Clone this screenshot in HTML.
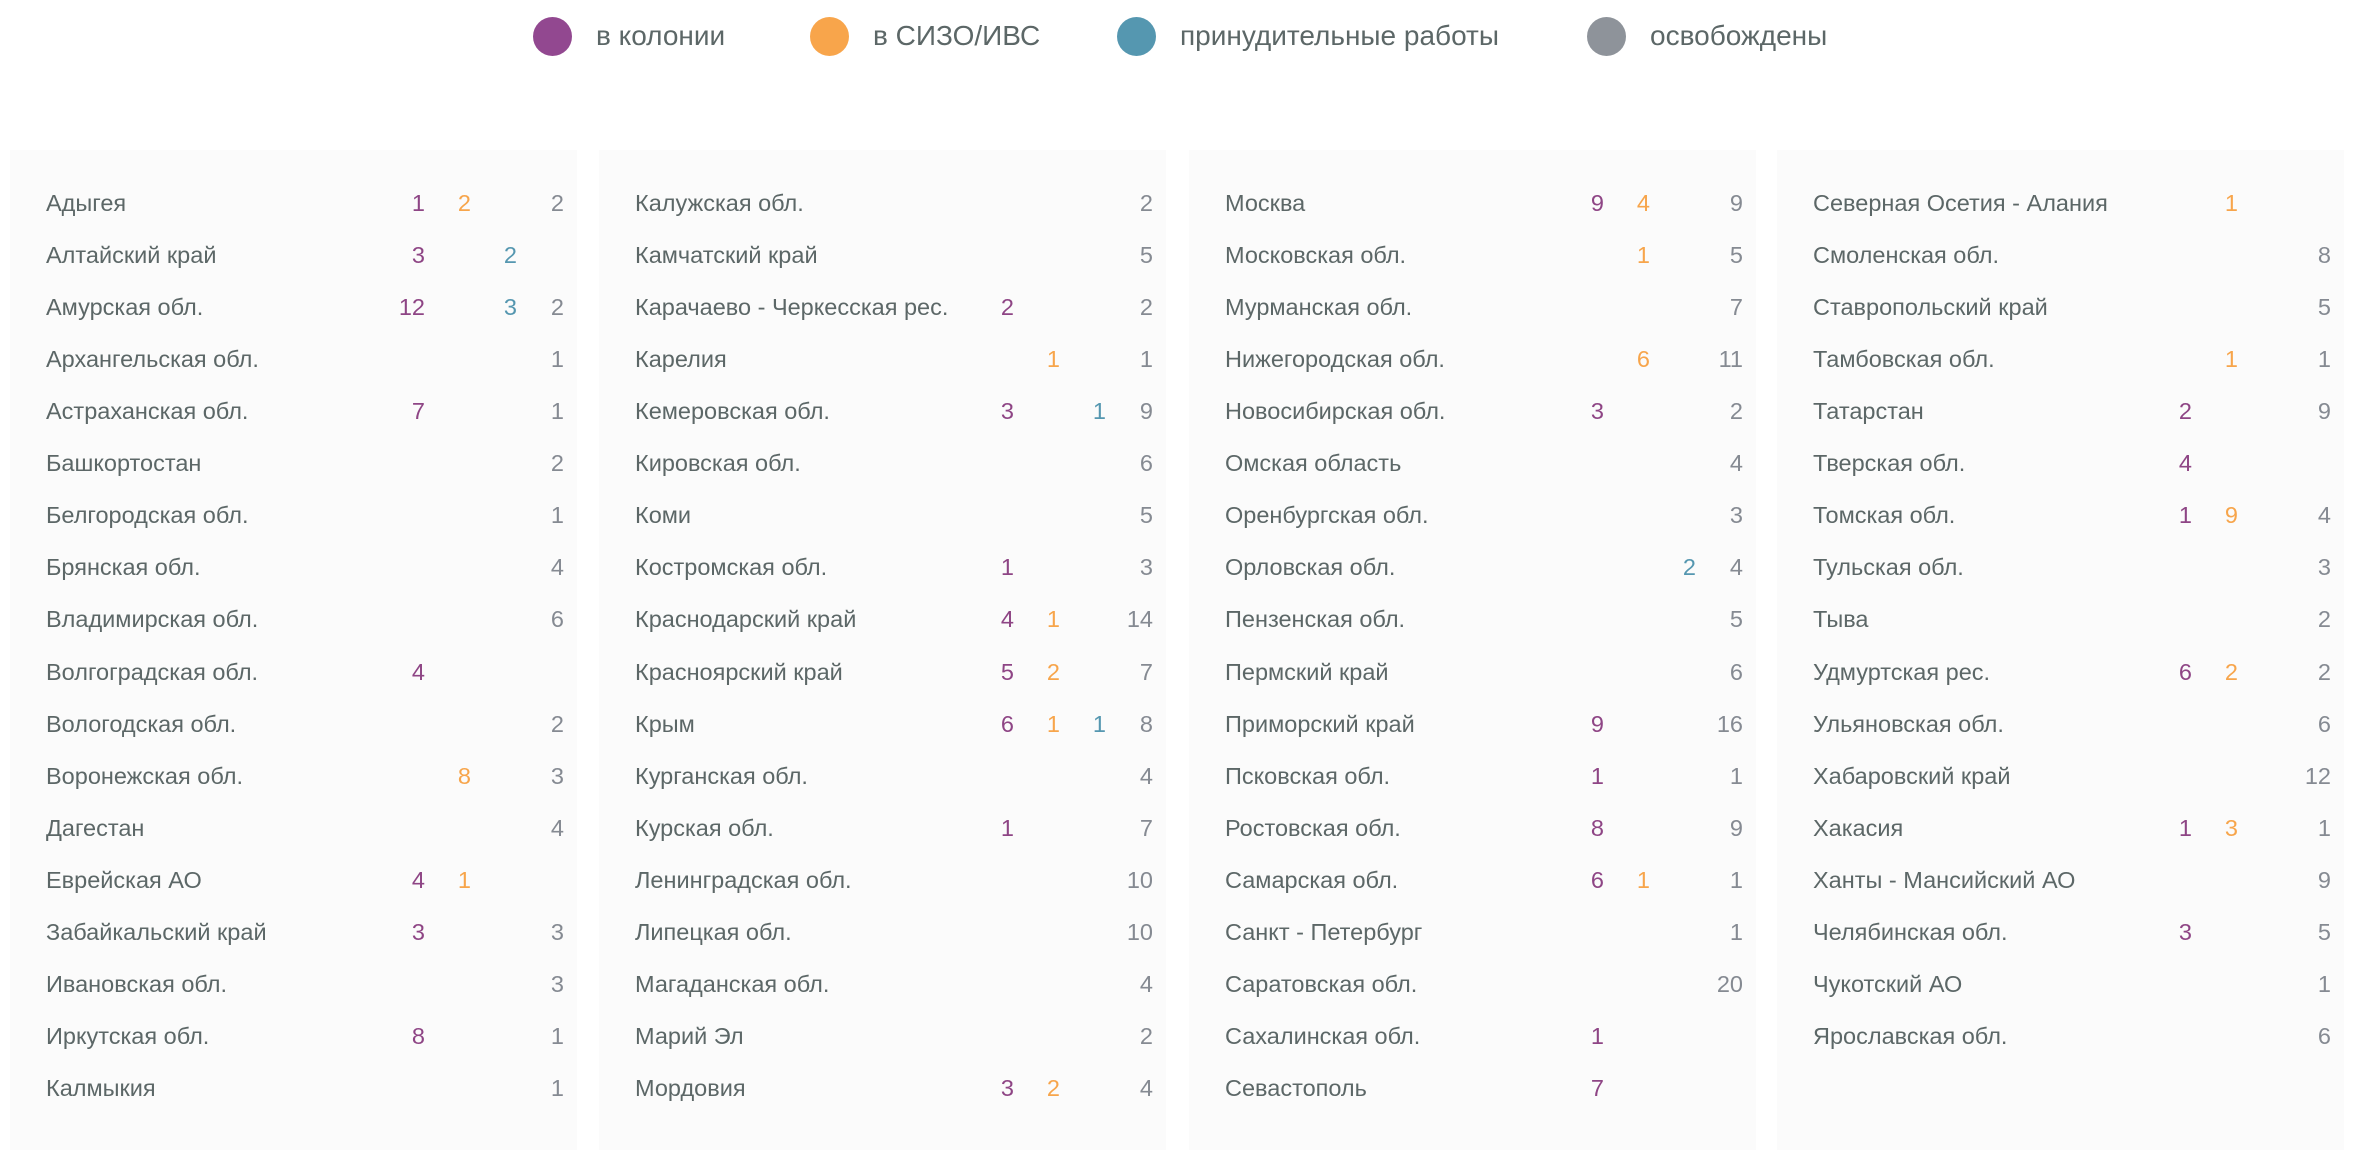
<!DOCTYPE html>
<html><head><meta charset="utf-8"><style>
body{margin:0;width:2360px;height:1150px;background:#fff;position:relative;overflow:hidden;font-family:"Liberation Sans","DejaVu Sans",sans-serif;color:#5c6767}
.lg{position:absolute;top:16px;height:40px;display:flex;align-items:center;font-size:28px}
.lg i{display:inline-block;width:39px;height:39px;border-radius:50%;margin-right:24px}
.p{position:absolute;top:150px;bottom:0;width:567px;background:#fbfbfb}
.r{position:absolute;left:0;width:100%;height:52px;line-height:52px;font-size:23.5px}
.r span{position:absolute;text-align:right;width:60px}
.n{left:36px;text-align:left!important;width:auto!important}
.a{left:355px;color:#8e4585}.b{left:401px;color:#f7a54b}.c{left:447px;color:#5597b0}.d{left:494px;color:#858a92}
</style></head><body>
<div class="lg" style="left:533px"><i style="background:#924890"></i>в колонии</div>
<div class="lg" style="left:810px"><i style="background:#f8a54b"></i>в СИЗО/ИВС</div>
<div class="lg" style="left:1117px"><i style="background:#5597b0"></i>принудительные работы</div>
<div class="lg" style="left:1587px"><i style="background:#8e939a"></i>освобождены</div>
<div id="w"></div>
<script>
var D=[
[["Адыгея",1,2,"",2],["Алтайский край",3,"",2,""],["Амурская обл.",12,"",3,2],["Архангельская обл.","","","",1],["Астраханская обл.",7,"","",1],["Башкортостан","","","",2],["Белгородская обл.","","","",1],["Брянская обл.","","","",4],["Владимирская обл.","","","",6],["Волгоградская обл.",4,"","",""],["Вологодская обл.","","","",2],["Воронежская обл.","",8,"",3],["Дагестан","","","",4],["Еврейская АО",4,1,"",""],["Забайкальский край",3,"","",3],["Ивановская обл.","","","",3],["Иркутская обл.",8,"","",1],["Калмыкия","","","",1]],
[["Калужская обл.","","","",2],["Камчатский край","","","",5],["Карачаево - Черкесская рес.",2,"","",2],["Карелия","",1,"",1],["Кемеровская обл.",3,"",1,9],["Кировская обл.","","","",6],["Коми","","","",5],["Костромская обл.",1,"","",3],["Краснодарский край",4,1,"",14],["Красноярский край",5,2,"",7],["Крым",6,1,1,8],["Курганская обл.","","","",4],["Курская обл.",1,"","",7],["Ленинградская обл.","","","",10],["Липецкая обл.","","","",10],["Магаданская обл.","","","",4],["Марий Эл","","","",2],["Мордовия",3,2,"",4]],
[["Москва",9,4,"",9],["Московская обл.","",1,"",5],["Мурманская обл.","","","",7],["Нижегородская обл.","",6,"",11],["Новосибирская обл.",3,"","",2],["Омская область","","","",4],["Оренбургская обл.","","","",3],["Орловская обл.","","",2,4],["Пензенская обл.","","","",5],["Пермский край","","","",6],["Приморский край",9,"","",16],["Псковская обл.",1,"","",1],["Ростовская обл.",8,"","",9],["Самарская обл.",6,1,"",1],["Санкт - Петербург","","","",1],["Саратовская обл.","","","",20],["Сахалинская обл.",1,"","",""],["Севастополь",7,"","",""]],
[["Северная Осетия - Алания","",1,"",""],["Смоленская обл.","","","",8],["Ставропольский край","","","",5],["Тамбовская обл.","",1,"",1],["Татарстан",2,"","",9],["Тверская обл.",4,"","",""],["Томская обл.",1,9,"",4],["Тульская обл.","","","",3],["Тыва","","","",2],["Удмуртская рес.",6,2,"",2],["Ульяновская обл.","","","",6],["Хабаровский край","","","",12],["Хакасия",1,3,"",1],["Ханты - Мансийский АО","","","",9],["Челябинская обл.",3,"","",5],["Чукотский АО","","","",1],["Ярославская обл.","","","",6]]];
var L=[10,599,1189,1777],h="";
D.forEach(function(col,i){h+='<div class="p" style="left:'+L[i]+'px">';
col.forEach(function(r,j){h+='<div class="r" style="top:'+(27+j*52.06)+'px"><span class="n">'+r[0]+'</span><span class="a">'+r[1]+'</span><span class="b">'+r[2]+'</span><span class="c">'+r[3]+'</span><span class="d">'+r[4]+'</span></div>';});
h+='</div>';});
document.getElementById("w").innerHTML=h;
</script>
</body></html>
